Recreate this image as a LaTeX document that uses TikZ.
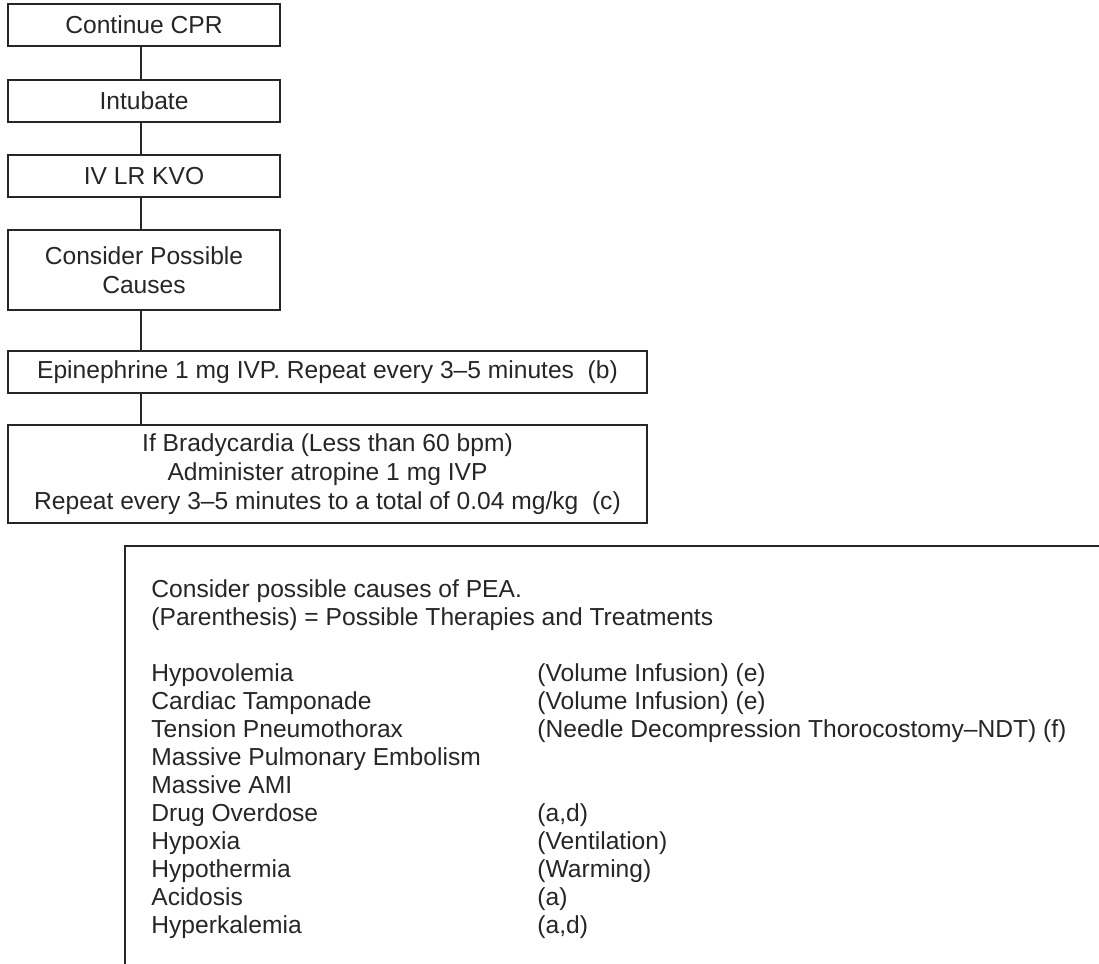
\documentclass[tikz,border=0pt]{standalone}
\usepackage{fontspec}
\setmainfont{Liberation Sans}
\usepackage{array}
\definecolor{ink}{HTML}{262626}
\tikzset{
    flowbox/.style   = {draw=ink, line width=0.9pt, align=center, inner sep=0pt,
                        minimum width=136pt, minimum height=21pt, text=ink,
                        font=\fontsize{12.3}{14.4}\selectfont},
    widebox/.style   = {flowbox, minimum width=319.5pt},
    link/.style      = {draw=ink, line width=1pt}
}
\begin{document}
\begin{tikzpicture}[x=0.5pt,y=-0.5pt]
          \useasboundingbox (0,0) rectangle (1099,964);
          \coordinate (spine) at (141,0);

          \begin{scope}
            \node[flowbox] (cpr)    at (144,25)  {Continue CPR};
            \node[flowbox] (tube)   at (144,101) {Intubate};
            \node[flowbox] (iv)     at (144,176) {IV LR KVO};
            \node[flowbox, minimum height=40pt] (causes) at (144,270)
                 {Consider Possible\\Causes};
            \node[widebox] (epi)    at (327.5,372)
                 {Epinephrine 1 mg IVP. Repeat every 3--5 minutes~~(b)};
            \node[widebox, minimum height=49pt] (brady) at (327.5,474)
                 {If Bradycardia (Less than 60 bpm)\\
                  Administer atropine 1 mg IVP\\
                  Repeat every 3--5 minutes to a total of 0.04 mg/kg~~(c)};
          \end{scope}

          \begin{scope}
            \draw[link] (cpr.south -| spine)    -- (tube.north -| spine);
            \draw[link] (tube.south -| spine)   -- (iv.north -| spine);
            \draw[link] (iv.south -| spine)     -- (causes.north -| spine);
            \draw[link] (causes.south -| spine) -- (epi.north -| spine);
            \draw[link] (epi.south -| spine)    -- (brady.north -| spine);
          \end{scope}

          \begin{scope}
            \coordinate (pea) at (125,546);
            \draw[link] (125,964) -- (pea) -- (1099,546);
            \node[anchor=base west, inner sep=0pt, text=ink,
                  font=\fontsize{12.3}{14}\selectfont] (list) at (151,597)
            {\renewcommand\arraystretch{1}%
             \begin{tabular}[t]{@{}p{193pt}@{}l@{}}
               \multicolumn{2}{@{}l@{}}{Consider possible causes of PEA.}\\
               \multicolumn{2}{@{}l@{}}{(Parenthesis) = Possible Therapies and Treatments}\\
               \\
               Hypovolemia                 & (Volume Infusion) (e)\\
               Cardiac Tamponade           & (Volume Infusion) (e)\\
               Tension Pneumothorax        & (Needle Decompression Thorocostomy--NDT) (f)\\
               Massive Pulmonary Embolism  & \\
               Massive AMI                 & \\
               Drug Overdose               & (a,d)\\
               Hypoxia                     & (Ventilation)\\
               Hypothermia                 & (Warming)\\
               Acidosis                    & (a)\\
               Hyperkalemia                & (a,d)
             \end{tabular}};
          \end{scope}
        \end{tikzpicture}
\end{document}
